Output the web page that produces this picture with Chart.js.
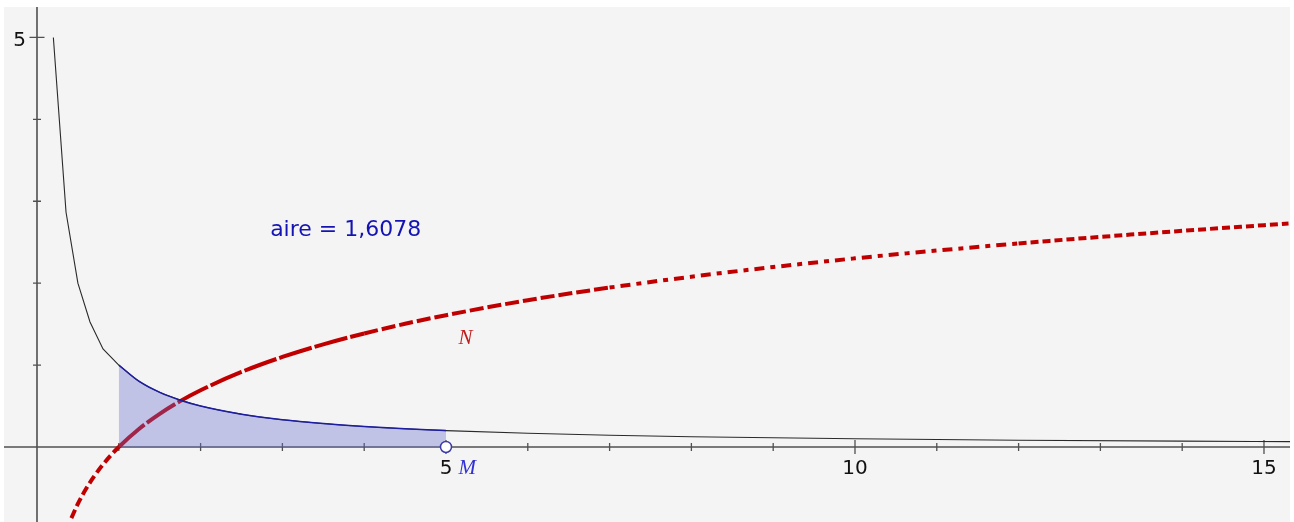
<!DOCTYPE html>
<html>
<head>
<meta charset="utf-8">
<title>aire sous 1/x</title>
<script src="https://cdn.jsdelivr.net/npm/chart.js@4/dist/chart.umd.min.js"></script>
<style>
  html, body { margin: 0; padding: 0; background: #ffffff; }
  #wrap { position: absolute; left: 4px; top: 7px; width: 1286px; height: 515px; background: #f4f4f4; }
  canvas { display: block; }
</style>
</head>
<body>
<div id="wrap"><canvas id="c" width="1286" height="515"></canvas></div>
<script>
// f(x) = 1/x : coarse samples near the y axis (joined by straight segments)
const hypNearX = [0.2, 0.355, 0.5, 0.648, 0.807, 1];
const hypNearY = [5, 2.866, 2, 1.526, 1.197, 1];
// f(x) = 1/x : smooth part
const hypFarX = [1, 1.25, 1.5, 2, 2.5, 3, 4, 5, 6, 7, 8, 10, 12, 14, 15.32];
const hypFarY = [1, 0.8, 0.667, 0.5, 0.4, 0.333, 0.25, 0.2, 0.167, 0.143, 0.125, 0.1, 0.083, 0.071, 0.065];

// shaded region under f between 1 and 5
const areaX = [1, 1.25, 1.5, 1.75, 2, 2.5, 3, 3.5, 4, 4.5, 5];
const areaY = [1, 0.8, 0.667, 0.571, 0.5, 0.4, 0.333, 0.286, 0.25, 0.222, 0.2];
const areaValue = 1.6078;

// trace left by point N
const traceX = [0.42, 0.5, 0.6, 0.7, 0.8, 0.9, 1, 1.25, 1.5, 1.75, 2, 2.5, 3, 3.5, 4, 4.5, 5, 6, 7, 8, 9, 10, 11, 12, 13, 14, 15, 15.3];
const traceY = [-0.868, -0.693, -0.511, -0.357, -0.223, -0.105, 0, 0.223, 0.405, 0.560, 0.693, 0.916, 1.099, 1.253, 1.386, 1.504, 1.609, 1.792, 1.946, 2.079, 2.197, 2.303, 2.398, 2.485, 2.565, 2.639, 2.708, 2.728];

// point M
const pointM = [5, 0];

// axes
const xTicks = [1, 2, 3, 4, 5, 6, 7, 8, 9, 10, 11, 12, 13, 14, 15];
const xTickLabels = ['5', '10', '15'];
const yTicks = [1, 2, 3, 4, 5];
const yTickLabels = ['5'];

const pts = (xs, ys) => xs.map((x, i) => ({ x: x, y: ys[i] }));

const axesPlugin = {
  id: 'geoAxes',
  beforeDatasetsDraw(chart) {
    const ctx = chart.ctx, xs = chart.scales.x, ys = chart.scales.y;
    const x0 = xs.getPixelForValue(0), y0 = ys.getPixelForValue(0);
    ctx.save();
    ctx.strokeStyle = '#505050';
    ctx.lineWidth = 1.6;
    ctx.beginPath();
    ctx.moveTo(0, y0); ctx.lineTo(chart.width, y0);
    ctx.moveTo(x0, 0); ctx.lineTo(x0, chart.height);
    ctx.stroke();
    ctx.lineWidth = 1.3;
    ctx.beginPath();
    xTicks.forEach(v => {
      const p = xs.getPixelForValue(v);
      const h = xTickLabels.includes(String(v)) ? 7 : 4;
      ctx.moveTo(p, y0 - h); ctx.lineTo(p, y0 + h);
    });
    yTicks.forEach(v => {
      const p = ys.getPixelForValue(v);
      const h = yTickLabels.includes(String(v)) ? 7.5 : 4;
      ctx.moveTo(x0 - h, p); ctx.lineTo(x0 + h, p);
    });
    ctx.stroke();
    ctx.restore();
  },
  afterDatasetsDraw(chart) {
    const ctx = chart.ctx, xs = chart.scales.x, ys = chart.scales.y;
    const x0 = xs.getPixelForValue(0), y0 = ys.getPixelForValue(0);
    ctx.save();
    ctx.fillStyle = '#111111';
    ctx.font = '20px "DejaVu Sans"';
    ctx.textBaseline = 'middle';
    ctx.textAlign = 'center';
    xTickLabels.forEach(t => {
      ctx.fillText(t, xs.getPixelForValue(Number(t)), y0 + 22);
    });
    ctx.textAlign = 'right';
    yTickLabels.forEach(t => {
      ctx.fillText(t, x0 - 11, ys.getPixelForValue(Number(t)) + 3);
    });

    // area caption
    ctx.textAlign = 'left';
    ctx.fillStyle = '#1414b4';
    ctx.font = '22px "DejaVu Sans"';
    ctx.fillText('aire = ' + areaValue.toFixed(4).replace('.', ','), xs.getPixelForValue(2.85), ys.getPixelForValue(2.65));

    // point names
    ctx.font = 'italic 21px "Liberation Serif"';
    ctx.textAlign = 'center';
    ctx.fillStyle = '#be1e1e';
    ctx.fillText('N', xs.getPixelForValue(5.24), ys.getPixelForValue(1.33));
    ctx.fillStyle = '#3232d2';
    ctx.fillText('M', xs.getPixelForValue(5.26), ys.getPixelForValue(-0.26));
    ctx.restore();
  }
};

// dash pattern of the trace changes along the curve
function traceDash(c) {
  const x = c.p0.parsed.x;
  if (x < 1) return [9, 4];
  if (x < 4) return [34, 3];
  if (x < 7) return [14, 4];
  if (x < 12) return [5, 6, 10, 6];
  return [8, 4];
}

new Chart(document.getElementById('c'), {
  type: 'line',
  data: {
    datasets: [
      {
        label: 'M',
        type: 'scatter',
        data: [{ x: pointM[0], y: pointM[1] }],
        pointRadius: 5.5,
        pointBackgroundColor: '#ffffff',
        pointBorderColor: '#3a3aa8',
        pointBorderWidth: 1.5,
        order: 1
      },
      {
        label: 'aire',
        data: pts(areaX, areaY),
        borderColor: '#1e1ea0',
        borderWidth: 1.5,
        backgroundColor: 'rgba(100, 104, 205, 0.36)',
        fill: 'origin',
        pointRadius: 0,
        cubicInterpolationMode: 'monotone',
        order: 2
      },
      {
        label: 'f',
        data: pts(hypFarX, hypFarY),
        borderColor: '#2a2a2a',
        borderWidth: 1.1,
        fill: false,
        pointRadius: 0,
        cubicInterpolationMode: 'monotone',
        order: 3
      },
      {
        label: 'f (début)',
        data: pts(hypNearX, hypNearY),
        borderColor: '#2a2a2a',
        borderWidth: 1.1,
        fill: false,
        pointRadius: 0,
        tension: 0,
        order: 3
      },
      {
        label: 'N',
        data: pts(traceX, traceY),
        borderColor: '#c00000',
        borderWidth: 4,
        fill: false,
        pointRadius: 0,
        cubicInterpolationMode: 'monotone',
        segment: { borderDash: traceDash },
        order: 4
      }
    ]
  },
  options: {
    responsive: false,
    animation: false,
    layout: { padding: 0, autoPadding: false },
    scales: {
      x: { type: 'linear', min: -0.4034, max: 15.318, display: false },
      y: { type: 'linear', min: -0.916, max: 5.372, display: false }
    },
    plugins: {
      legend: { display: false },
      tooltip: { enabled: false }
    }
  },
  plugins: [axesPlugin]
});
</script>
</body>
</html>
